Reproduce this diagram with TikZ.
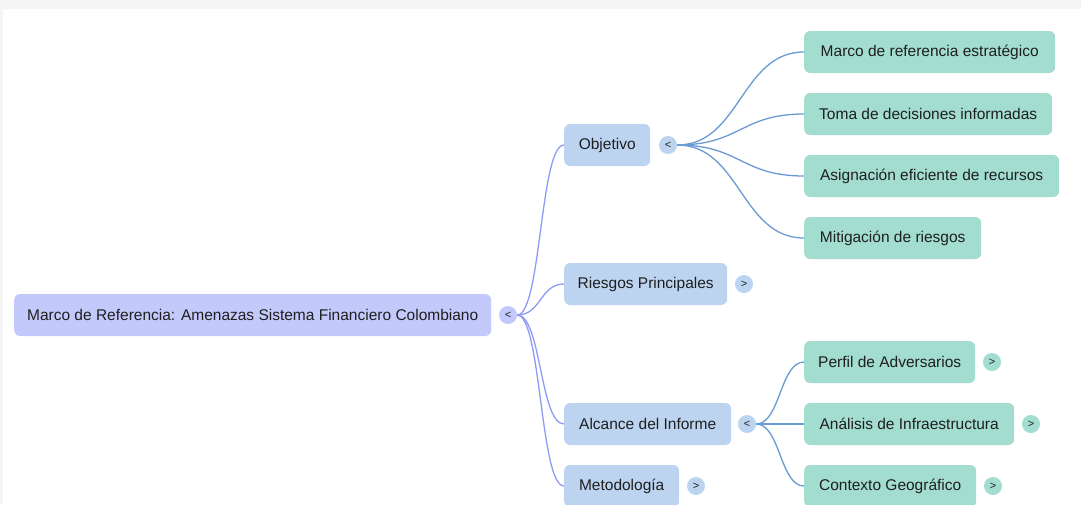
\documentclass[tikz,border=0pt]{standalone}
\usepackage{fontspec}
\setmainfont{Liberation Sans}
\definecolor{rootfill}{HTML}{C4C9FB}
\definecolor{lonefill}{HTML}{BCD4F0}
\definecolor{ltwofill}{HTML}{A2DDD0}
\definecolor{rootedge}{HTML}{8E9BF7}
\definecolor{loneedge}{HTML}{6B9BD2}
\definecolor{txt}{HTML}{1F1F1F}
\begin{document}
\begin{tikzpicture}[x=1pt,y=-1pt,
  base/.style={rounded corners=6pt, minimum height=42pt, anchor=west, inner xsep=0pt,
    font=\fontsize{15.5}{18}\selectfont, text=txt},
  rootbox/.style={base, fill=rootfill},
  lonebox/.style={base, fill=lonefill},
  ltwobox/.style={base, fill=ltwofill},
  tog/.style={circle, minimum size=18pt, inner sep=0pt, font=\fontsize{11}{11}\selectfont, text=txt},
  rootedgestyle/.style={draw=rootedge, line width=1.3pt},
  loneedgestyle/.style={draw=loneedge, line width=1.3pt}
]
\useasboundingbox (0,0) rectangle (1081,504);
\fill[white] (0,0) rectangle (1081,504);
\fill[black!4] (0,0) rectangle (1081,9);
\fill[black!4] (0,0) rectangle (3,504);

% nodes
\node[rootbox, minimum width=477pt] (root) at (14,315) {Marco de Referencia: Amenazas Sistema Financiero Colombiano};
\node[tog, fill=rootfill] (troot) at (508,315) {<};

\node[lonebox, minimum width=86pt] (obj) at (564,145) {Objetivo};
\node[tog, fill=lonefill] (tobj) at (668,145) {<};
\node[lonebox, minimum width=163pt] (ries) at (564,284) {Riesgos Principales};
\node[tog, fill=lonefill] (tries) at (744,284) {>};
\node[lonebox, minimum width=167pt] (alc) at (564,424) {Alcance del Informe};
\node[tog, fill=lonefill] (talc) at (747,424) {<};
\node[lonebox, minimum width=115pt] (met) at (564,486) {Metodología};
\node[tog, fill=lonefill] (tmet) at (696,486) {>};

\node[ltwobox, minimum width=251pt] (o1) at (804,52) {Marco de referencia estratégico};
\node[ltwobox, minimum width=248pt] (o2) at (804,114) {Toma de decisiones informadas};
\node[ltwobox, minimum width=255pt] (o3) at (804,176) {Asignación eficiente de recursos};
\node[ltwobox, minimum width=177pt] (o4) at (804,238) {Mitigación de riesgos};

\node[ltwobox, minimum width=171pt] (a1) at (804,362) {Perfil de Adversarios};
\node[tog, fill=ltwofill] (ta1) at (992,362) {>};
\node[ltwobox, minimum width=210pt] (a2) at (804,424) {Análisis de Infraestructura};
\node[tog, fill=ltwofill] (ta2) at (1031,424) {>};
\node[ltwobox, minimum width=172pt] (a3) at (804,486) {Contexto Geográfico};
\node[tog, fill=ltwofill] (ta3) at (993,486) {>};

% edges from root
\foreach \c in {obj,ries,alc,met}{
  \draw[rootedgestyle] (troot.east) .. controls ([xshift=24pt]troot.east) and ([xshift=-24pt]\c.west) .. (\c.west);
}
% edges from Objetivo
\foreach \c in {o1,o2,o3,o4}{
  \draw[loneedgestyle] (tobj.east) .. controls ([xshift=63pt]tobj.east) and ([xshift=-63pt]\c.west) .. (\c.west);
}
% edges from Alcance
\foreach \c in {a1,a2,a3}{
  \draw[loneedgestyle] (talc.east) .. controls ([xshift=24pt]talc.east) and ([xshift=-24pt]\c.west) .. (\c.west);
}
\end{tikzpicture}
\end{document}
